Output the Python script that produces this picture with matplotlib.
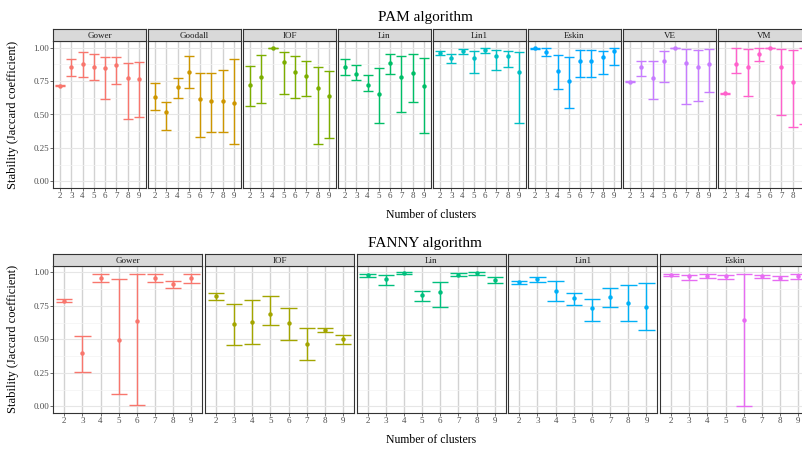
import matplotlib.pyplot as plt
from matplotlib.ticker import MultipleLocator, FormatStrFormatter

plt.rcParams['font.family'] = ['Liberation Serif', 'DejaVu Serif']

clusters = [2, 3, 4, 5, 6, 7, 8, 9]

# PAM algorithm (mean stability with lower / upper bounds)
pam_methods = ['Gower', 'Goodall', 'IOF', 'Lin', 'Lin1', 'Eskin', 'VE', 'VM']
pam_colors = ['#F8766D', '#CD9600', '#7CAE00', '#00BE67',
              '#00BFC4', '#00A9FF', '#C77CFF', '#FF61CC']
pam_mean = [
    [0.716, 0.853, 0.878, 0.853, 0.846, 0.871, 0.774, 0.764],
    [0.634, 0.517, 0.709, 0.816, 0.617, 0.602, 0.602, 0.585],
    [0.719, 0.784, 0.998, 0.893, 0.818, 0.791, 0.699, 0.637],
    [0.856, 0.803, 0.721, 0.657, 0.888, 0.781, 0.811, 0.714],
    [0.958, 0.920, 0.978, 0.925, 0.985, 0.935, 0.935, 0.818],
    [0.995, 0.965, 0.826, 0.751, 0.903, 0.900, 0.933, 0.973],
    [0.746, 0.853, 0.776, 0.900, 0.998, 0.888, 0.856, 0.878],
    [0.659, 0.878, 0.856, 0.953, 0.999, 0.856, 0.746, 0.750],
]
pam_low = [
    [0.710, 0.791, 0.781, 0.761, 0.617, 0.729, 0.463, 0.483],
    [0.535, 0.381, 0.627, 0.699, 0.333, 0.368, 0.366, 0.276],
    [0.565, 0.585, 0.994, 0.657, 0.624, 0.642, 0.281, 0.321],
    [0.796, 0.759, 0.677, 0.433, 0.803, 0.517, 0.592, 0.358],
    [0.943, 0.883, 0.950, 0.808, 0.960, 0.836, 0.858, 0.433],
    [0.988, 0.940, 0.694, 0.547, 0.781, 0.779, 0.801, 0.873],
    [0.740, 0.786, 0.617, 0.746, 0.994, 0.580, 0.604, 0.669],
    [0.654, 0.811, 0.642, 0.898, 0.996, 0.493, 0.405, 0.430],
]
pam_high = [
    [0.722, 0.915, 0.968, 0.953, 0.933, 0.928, 0.886, 0.893],
    [0.736, 0.592, 0.771, 0.935, 0.808, 0.811, 0.833, 0.913],
    [0.866, 0.943, 1.000, 0.968, 0.938, 0.898, 0.853, 0.823],
    [0.913, 0.871, 0.799, 0.846, 0.950, 0.935, 0.953, 0.923],
    [0.975, 0.955, 0.990, 0.973, 0.998, 0.980, 0.978, 0.970],
    [1.000, 0.995, 0.948, 0.928, 0.983, 0.983, 0.978, 1.000],
    [0.752, 0.903, 0.898, 0.973, 1.000, 0.993, 0.983, 0.988],
    [0.664, 1.000, 0.990, 0.995, 1.000, 0.988, 0.983, 0.995],
]

# FANNY algorithm
fanny_methods = ['Gower', 'IOF', 'Lin', 'Lin1', 'Eskin']
fanny_colors = ['#F8766D', '#A3A500', '#00BF7D', '#00B0F6', '#E76BF3']
fanny_mean = [
    [0.790, 0.398, 0.955, 0.498, 0.640, 0.955, 0.910, 0.955],
    [0.823, 0.613, 0.633, 0.693, 0.623, 0.465, 0.573, 0.500],
    [0.978, 0.953, 0.995, 0.833, 0.853, 0.983, 0.993, 0.943],
    [0.928, 0.950, 0.858, 0.808, 0.735, 0.815, 0.770, 0.745],
    [0.978, 0.970, 0.970, 0.970, 0.648, 0.970, 0.960, 0.970],
]
fanny_low = [
    [0.778, 0.255, 0.930, 0.093, 0.008, 0.930, 0.880, 0.923],
    [0.795, 0.458, 0.465, 0.608, 0.495, 0.348, 0.555, 0.468],
    [0.968, 0.908, 0.988, 0.788, 0.738, 0.973, 0.983, 0.918],
    [0.915, 0.928, 0.783, 0.760, 0.638, 0.745, 0.638, 0.573],
    [0.970, 0.945, 0.955, 0.952, 0.005, 0.955, 0.945, 0.952],
]
fanny_high = [
    [0.800, 0.523, 0.985, 0.950, 0.985, 0.985, 0.938, 0.985],
    [0.848, 0.763, 0.793, 0.823, 0.733, 0.583, 0.588, 0.530],
    [0.985, 0.980, 1.000, 0.860, 0.928, 0.993, 1.000, 0.965],
    [0.938, 0.965, 0.933, 0.848, 0.803, 0.880, 0.908, 0.918],
    [0.988, 0.983, 0.985, 0.983, 0.985, 0.983, 0.973, 0.985],
]

W, H = 802, 449
fig = plt.figure(figsize=(W / 100, H / 100), dpi=100)


def draw_row(methods, colors, means, lows, highs, left, width, gap,
             top, bottom, strip_h, title, title_y, xlabel_y):
    for i, name in enumerate(methods):
        x0 = left + i * (width + gap)
        ax = fig.add_axes([x0 / W, 1 - bottom / H, width / W, (bottom - top) / H])
        ax.set_xlim(1.4, 9.6)
        ax.set_ylim(-0.05, 1.05)
        ax.yaxis.set_major_locator(MultipleLocator(0.25))
        ax.yaxis.set_minor_locator(MultipleLocator(0.125))
        ax.yaxis.set_major_formatter(FormatStrFormatter('%.2f'))
        ax.set_xticks(clusters)
        # the figure is cropped on the right: drop labels that fall outside it
        labels = []
        for k in clusters:
            px = x0 + (k - 1.4) / 8.2 * width
            labels.append(str(k) if px + 3 < W else '')
        ax.set_xticklabels(labels)
        ax.grid(axis='x', which='major', color='#d2d2d2', lw=1.0)
        ax.grid(axis='y', which='major', color='#e6e6e6', lw=0.8)
        ax.grid(axis='y', which='minor', color='#f3f3f3', lw=0.5)
        ax.set_axisbelow(True)
        ax.tick_params(which='major', length=2, width=0.5, color='#333333',
                       labelsize=6.5, labelcolor='#4d4d4d', pad=1)
        ax.tick_params(which='minor', length=0)
        if i > 0:
            ax.tick_params(axis='y', labelleft=False, length=0)
        for s in ax.spines.values():
            s.set_color('#333333')
            s.set_linewidth(0.8)

        m, lo, hi = means[i], lows[i], highs[i]
        c = colors[i]
        ax.vlines(clusters, lo, hi, color=c, lw=1.0)
        ax.hlines(lo, [k - 0.45 for k in clusters], [k + 0.45 for k in clusters],
                  color=c, lw=1.0)
        ax.hlines(hi, [k - 0.45 for k in clusters], [k + 0.45 for k in clusters],
                  color=c, lw=1.0)
        ax.plot(clusters, m, 'o', color=c, ms=3.2, mec='none')

        sax = fig.add_axes([x0 / W, 1 - top / H, width / W, strip_h / H])
        sax.set_facecolor('#d9d9d9')
        sax.set_xticks([])
        sax.set_yticks([])
        for s in sax.spines.values():
            s.set_color('#333333')
            s.set_linewidth(0.8)
        sax.text(0.5, 0.45, name, ha='center', va='center', fontsize=6.5,
                 color='#1a1a1a', transform=sax.transAxes)

    fig.text(425 / W, 1 - title_y / H, title, ha='center', va='center', fontsize=11)
    fig.text(431 / W, 1 - xlabel_y / H, 'Number of clusters', ha='center',
             va='center', fontsize=8.5)
    fig.text(13 / W, 1 - (top + bottom) / 2 / H, 'Stability (Jaccard coefficient)',
             ha='center', va='center', rotation=90, fontsize=9)


draw_row(pam_methods, pam_colors, pam_mean, pam_low, pam_high,
         left=53.3, width=92.4, gap=2.6, top=41, bottom=188, strip_h=11.7,
         title='PAM algorithm', title_y=18, xlabel_y=215)
draw_row(fanny_methods, fanny_colors, fanny_mean, fanny_low, fanny_high,
         left=53.3, width=149, gap=2.7, top=265.7, bottom=413, strip_h=11.4,
         title='FANNY algorithm', title_y=243, xlabel_y=440)

fig.savefig('out.png', dpi=100)
